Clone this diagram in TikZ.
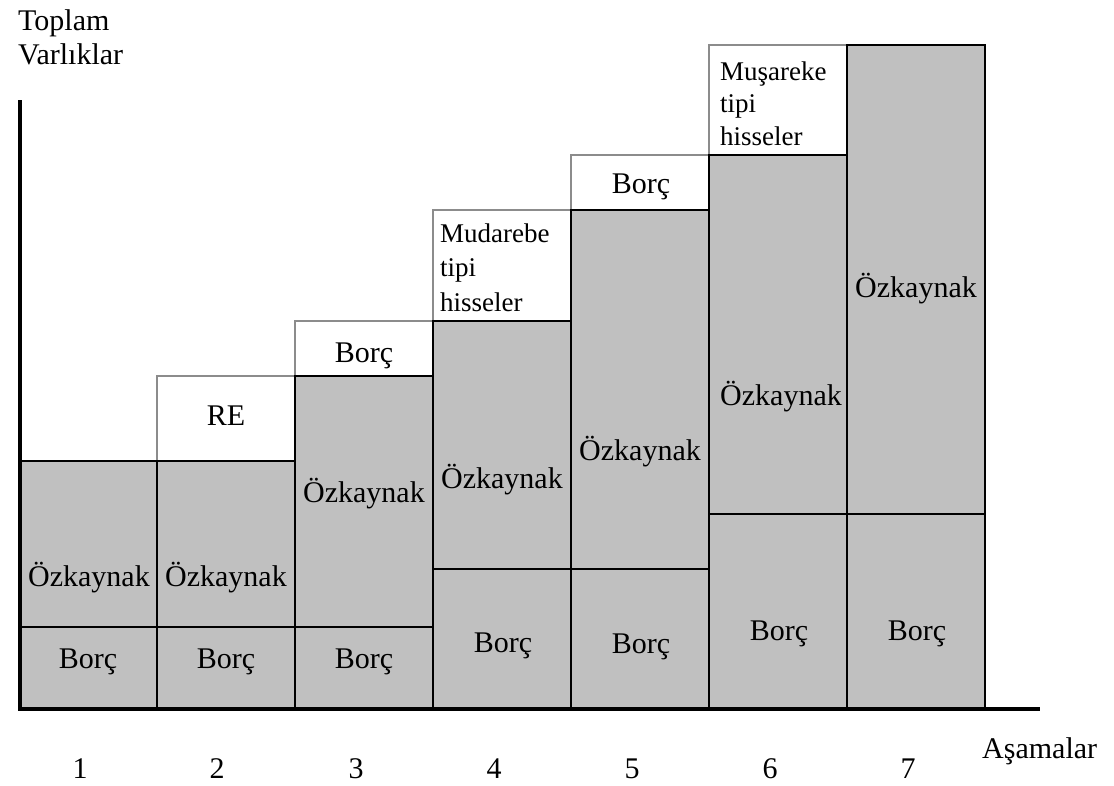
\documentclass[tikz,border=0pt]{standalone}
\usepackage{fontspec}
\setmainfont{Liberation Serif}
\definecolor{boxgray}{HTML}{C0C0C0}
\definecolor{edgegray}{HTML}{8C8C8C}
\begin{document}
\begin{tikzpicture}[x=1pt,y=-1pt,
  lbl/.style={font=\fontsize{30}{34}\selectfont, inner sep=0pt, anchor=base},
  lblw/.style={lbl, anchor=base west},
  lbls/.style={font=\fontsize{27}{32}\selectfont, inner sep=0pt, anchor=base west},
  fillbox/.style={fill=boxgray, draw=black, line width=2pt},
  openbox/.style={fill=white, draw=edgegray, line width=1.4pt},
  axis/.style={draw=black, line width=3.6pt},
]
\useasboundingbox (0,0) rectangle (1114,785);

% white (new financing) blocks on top of each stage
\path[openbox] (157,376) rectangle (295,461);
\path[openbox] (295,321) rectangle (433,376);
\path[openbox] (433,210) rectangle (571,321);
\path[openbox] (571,155) rectangle (709,210);
\path[openbox] (709,45)  rectangle (847,155);

% grey blocks: equity above, debt below
\path[fillbox] (20,461)  rectangle (157,627);
\path[fillbox] (20,627)  rectangle (157,709);
\path[fillbox] (157,461) rectangle (295,627);
\path[fillbox] (157,627) rectangle (295,709);
\path[fillbox] (295,376) rectangle (433,627);
\path[fillbox] (295,627) rectangle (433,709);
\path[fillbox] (433,321) rectangle (571,569);
\path[fillbox] (433,569) rectangle (571,709);
\path[fillbox] (571,210) rectangle (709,569);
\path[fillbox] (571,569) rectangle (709,709);
\path[fillbox] (709,155) rectangle (847,514);
\path[fillbox] (709,514) rectangle (847,709);
\path[fillbox] (847,45)  rectangle (985,514);
\path[fillbox] (847,514) rectangle (985,709);

% axes
\coordinate (ytop) at (20,100);
\coordinate (origin) at (20,709);
\coordinate (xend) at (1040,709);
\draw[axis] (ytop) -- (origin) -- (xend);

% axis titles
\node[lblw] (ytitleA) at (18,30) {Toplam};
\node[lblw] (ytitleB) at (18,64) {Varlıklar};
\node[lblw] (xtitle) at (982,758) {Aşamalar};

% stage 1
\node[lbl] (e1) at (89,586) {Özkaynak};
\node[lbl] (d1) at (88,668) {Borç};
% stage 2
\node[lbl] (re2) at (226,425) {RE};
\node[lbl] (e2) at (226,586) {Özkaynak};
\node[lbl] (d2) at (226,668) {Borç};
% stage 3
\node[lbl] (n3) at (364,362) {Borç};
\node[lbl] (e3) at (364,502) {Özkaynak};
\node[lbl] (d3) at (364,668) {Borç};
% stage 4
\node[lbls] (n4a) at (440,242) {Mudarebe};
\node[lbls] (n4b) at (440,276) {tipi};
\node[lbls] (n4c) at (440,311) {hisseler};
\node[lbl] (e4) at (502,488) {Özkaynak};
\node[lbl] (d4) at (503,652) {Borç};
% stage 5
\node[lbl] (n5) at (641,193) {Borç};
\node[lbl] (e5) at (640,460) {Özkaynak};
\node[lbl] (d5) at (641,653) {Borç};
% stage 6
\node[lbls] (n6a) at (720,80) {Muşareke};
\node[lbls] (n6b) at (720,112) {tipi};
\node[lbls] (n6c) at (720,145) {hisseler};
\node[lbl] (e6) at (781,405) {Özkaynak};
\node[lbl] (d6) at (779,640) {Borç};
% stage 7
\node[lbl] (e7) at (916,297) {Özkaynak};
\node[lbl] (d7) at (917,640) {Borç};

% stage numbers
\node[lbl] (s1) at (80,778) {1};
\node[lbl] (s2) at (217,778) {2};
\node[lbl] (s3) at (356,778) {3};
\node[lbl] (s4) at (494,778) {4};
\node[lbl] (s5) at (632,778) {5};
\node[lbl] (s6) at (770,778) {6};
\node[lbl] (s7) at (908,778) {7};
\end{tikzpicture}
\end{document}
